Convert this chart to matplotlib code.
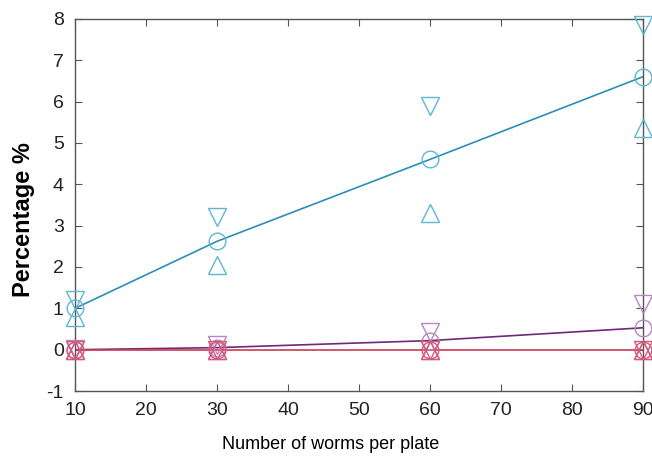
import matplotlib
matplotlib.use("Agg")
import matplotlib.pyplot as plt

plt.rcParams['font.family'] = ['Liberation Sans', 'DejaVu Sans']
plt.rcParams['axes.unicode_minus'] = False

worms = [10, 30, 60, 90]

# blue group
blue_mean = [1.0, 2.62, 4.6, 6.6]
blue_hi = [1.2, 3.2, 5.9, 7.85]
blue_lo = [0.8, 2.05, 3.3, 5.35]

# purple group
purple_mean = [0.0, 0.05, 0.22, 0.53]
purple_hi = [0.02, 0.12, 0.42, 1.1]
purple_lo = [0.0, 0.0, 0.0, 0.0]

# red group
red_mean = [0.0, 0.0, 0.0, 0.0]
red_hi = [0.0, 0.0, 0.0, 0.0]
red_lo = [0.0, 0.0, 0.0, 0.0]

groups = [
    (blue_mean, blue_hi, blue_lo, "#2a8fb8", "#5cb8d2"),
    (purple_mean, purple_hi, purple_lo, "#6e2a78", "#b886c4"),
    (red_mean, red_hi, red_lo, "#d0384f", "#d4587c"),
]

fig = plt.figure(figsize=(6.52, 4.59), dpi=100)
ax = fig.add_axes([0.115, 0.148, 0.871, 0.811])

for mean, hi, lo, lc, mc in groups:
    ax.plot(worms, mean, color=lc, lw=1.2, zorder=2)
    ax.plot(worms, mean, ls="none", marker="o", ms=12, mfc="none",
            mec=mc, mew=1.0, clip_on=False, zorder=3)
    ax.plot(worms, hi, ls="none", marker="v", ms=13, mfc="none",
            mec=mc, mew=1.0, clip_on=False, zorder=3)
    ax.plot(worms, lo, ls="none", marker="^", ms=13, mfc="none",
            mec=mc, mew=1.0, clip_on=False, zorder=3)

ax.set_xlim(10, 90)
ax.set_ylim(-1, 8)
ax.set_xticks([10, 20, 30, 40, 50, 60, 70, 80, 90])
ax.set_yticks(range(-1, 9))
ax.tick_params(direction="in", top=True, right=True, length=5,
               color="#555555", labelsize=14, pad=8, labelcolor="#222222")
for s in ax.spines.values():
    s.set_color("#555555")
    s.set_linewidth(1.0)

ax.set_xlabel("Number of worms per plate", fontsize=13)
ax.xaxis.set_label_coords(0.45, -0.12)
ax.set_ylabel("Percentage %", fontsize=17, fontweight="bold")
ax.yaxis.set_label_coords(-0.07, 0.462)

fig.savefig("out.png", dpi=100)
